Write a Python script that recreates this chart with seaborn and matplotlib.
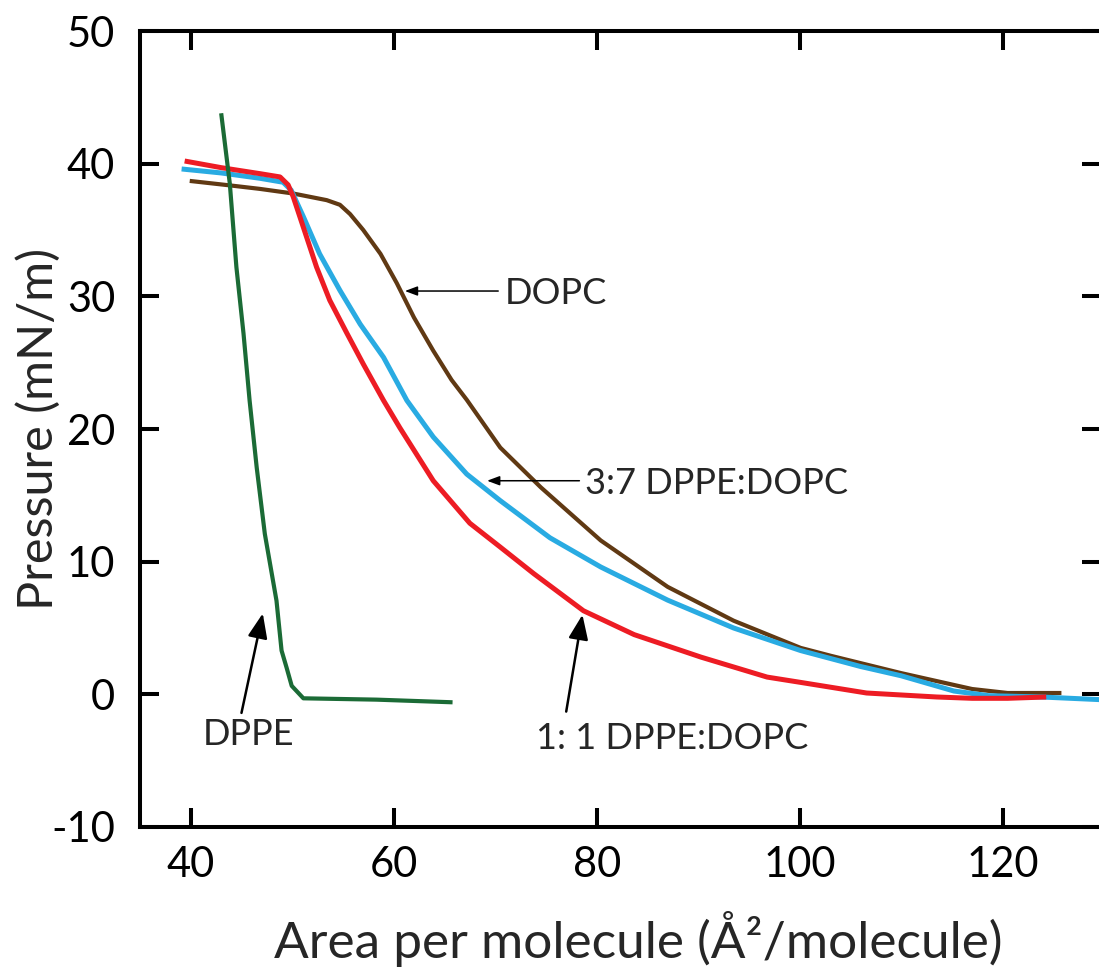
import matplotlib
matplotlib.use("Agg")
import matplotlib.pyplot as plt
import seaborn as sns
import pandas as pd

# ---- data ----
dppe_x = [43.0, 43.85, 44.5, 45.2, 45.8, 46.5, 47.3, 48.45, 48.95, 49.45, 49.95, 51.1, 58.3, 65.8]
dppe_y = [43.8, 38.5, 32.2, 27.2, 22.15, 17.1, 12.1, 7.06, 3.3, 2.0, 0.64, -0.3, -0.4, -0.6]

dopc_x = [39.9, 44.0, 46.8, 50.1, 53.4, 54.7, 55.7, 57.0, 58.7, 60.3, 62.0, 63.9, 65.7,
          67.2, 70.5, 74.5, 80.4, 87.0, 93.5, 100.1, 103.1, 110.0, 117.0, 120.5, 125.8]
dopc_y = [38.7, 38.35, 38.1, 37.75, 37.25, 36.9, 36.2, 35.0, 33.2, 31.0, 28.4, 25.9, 23.7,
          22.2, 18.6, 15.6, 11.6, 8.1, 5.55, 3.5, 2.9, 1.6, 0.4, 0.1, 0.1]

mix37_x = [39.1, 43.0, 46.8, 49.1, 49.9, 51.1, 52.7, 54.7, 56.7, 59.0, 61.3, 63.9, 67.2,
           70.5, 75.4, 80.4, 87.0, 93.5, 100.1, 106.0, 110.0, 115.2, 118.6, 123.8, 129.6]
mix37_y = [39.6, 39.3, 38.9, 38.6, 38.0, 36.0, 33.2, 30.45, 27.9, 25.4, 22.15, 19.4, 16.6,
           14.6, 11.8, 9.6, 7.1, 5.0, 3.3, 2.1, 1.4, 0.25, -0.1, -0.2, -0.4]

mix11_x = [39.4, 43.0, 46.8, 48.8, 49.6, 50.1, 51.1, 52.4, 53.7, 55.4, 57.0, 59.0, 60.6,
           63.9, 67.5, 70.5, 73.8, 78.7, 83.7, 90.3, 96.8, 100.1, 106.6, 113.5, 117.0,
           120.5, 124.3]
mix11_y = [40.2, 39.7, 39.25, 39.0, 38.4, 37.5, 35.2, 32.2, 29.7, 27.2, 24.9, 22.15, 20.1,
           16.1, 12.9, 11.1, 9.1, 6.3, 4.5, 2.8, 1.3, 0.9, 0.1, -0.2, -0.3, -0.3, -0.2]

x_ticks = [40, 60, 80, 100, 120]
y_ticks = [-10, 0, 10, 20, 30, 40, 50]

sns.set_theme(style="ticks")
plt.rcParams['font.family'] = ['Lato', 'DejaVu Sans']

fig = plt.figure(figsize=(10.99, 9.69), dpi=100)
ax = fig.add_axes([140/1099, (969-827)/969, (1101-140)/1099, (827-31)/969])

series = [
    (dopc_x, dopc_y, '#603913', 3.0),
    (mix37_x, mix37_y, '#29ABE2', 3.6),
    (mix11_x, mix11_y, '#ED1C24', 3.6),
    (dppe_x, dppe_y, '#1B6B36', 3.0),
]
for xs, ys, col, lw in series:
    df = pd.DataFrame({'area': xs, 'pressure': ys})
    sns.lineplot(data=df, x='area', y='pressure', ax=ax, color=col, lw=lw,
                 sort=False, estimator=None, solid_joinstyle='round',
                 solid_capstyle='butt')

ax.set_xlim(35, 129.7)
ax.set_ylim(-10, 50)
ax.set_xticks(x_ticks)
ax.set_yticks(y_ticks)
ax.set_xticklabels([str(v) for v in x_ticks])
ax.set_yticklabels([str(v) for v in y_ticks])
ax.tick_params(direction='in', length=13.7, width=2.9, labelsize=30,
               top=True, right=True, colors='black')
ax.tick_params(axis='y', pad=18)
ax.tick_params(axis='x', pad=14)
for sp in ax.spines.values():
    sp.set_linewidth(2.9)
    sp.set_color('black')

ax.set_xlabel('Area per molecule (Å²/molecule)', fontsize=37)
ax.set_ylabel('Pressure (mN/m)', fontsize=35)
ax.xaxis.set_label_coords(0.519, -0.105)
ax.yaxis.set_label_coords(-0.082, 0.5)

thin = dict(arrowstyle='-|>,head_length=0.75,head_width=0.28', color='black',
            lw=1.1, shrinkA=0, shrinkB=0, mutation_scale=10)
thick = dict(arrowstyle='-|>,head_length=0.75,head_width=0.3', color='black',
             lw=1.8, shrinkA=0, shrinkB=0, mutation_scale=20)

ax.annotate('', xy=(61.1, 30.4), xytext=(70.3, 30.4), arrowprops=thin)
ax.text(70.9, 30.2, 'DOPC', fontsize=26, ha='left', va='center')

ax.annotate('', xy=(69.2, 16.1), xytext=(78.3, 16.1), arrowprops=thin)
ax.text(78.9, 15.9, '3:7 DPPE:DOPC', fontsize=26, ha='left', va='center')

ax.annotate('', xy=(78.6, 6.0), xytext=(77.0, -1.3), arrowprops=thick)
ax.text(74.0, -3.3, '1: 1 DPPE:DOPC', fontsize=26, ha='left', va='center')

ax.annotate('', xy=(47.1, 6.1), xytext=(45.0, -1.4), arrowprops=thick)
ax.text(45.7, -3.0, 'DPPE', fontsize=26, ha='center', va='center')

fig.savefig('out.png', dpi=100)
